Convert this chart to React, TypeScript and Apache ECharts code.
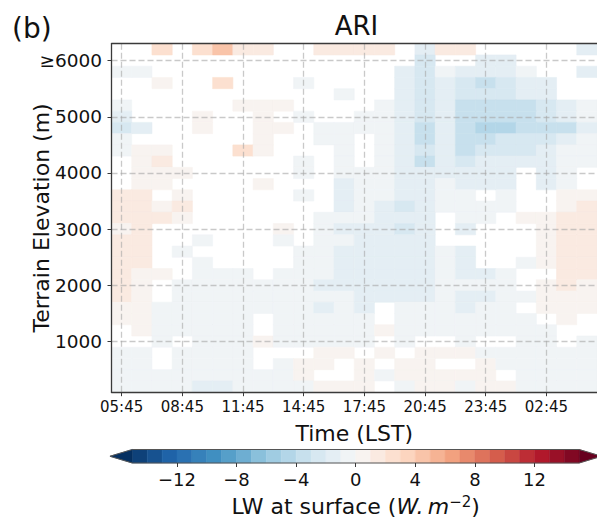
import React, { useEffect, useRef } from "react";
import * as echarts from "echarts";

const _ = null;

const timeCategories = [
  "05:45", "06:45", "07:45", "08:45", "09:45", "10:45", "11:45", "12:45",
  "13:45", "14:45", "15:45", "16:45", "17:45", "18:45", "19:45", "20:45",
  "21:45", "22:45", "23:45", "00:45", "01:45", "02:45", "03:45", "04:45",
];
const timeTickIndex = [0, 3, 6, 9, 12, 15, 18, 21];

const elevationBins = [
  6200, 6000, 5800, 5600, 5400, 5200, 5000, 4800, 4600, 4400, 4200, 4000,
  3800, 3600, 3400, 3200, 3000, 2800, 2600, 2400, 2200, 2000, 1800, 1600,
  1400, 1200, 1000, 800, 600, 400, 200,
];
const elevationTicks = [1000, 2000, 3000, 4000, 5000, 6000];
const elevationTickLabels = ["1000", "2000", "3000", "4000", "5000", "≥6000"];

const colorLevels = [
  -15, -14, -13, -12, -11, -10, -9, -8, -7, -6, -5, -4, -3, -2, -1, 0,
  1, 2, 3, 4, 5, 6, 7, 8, 9, 10, 11, 12, 13, 14, 15,
];
const colorbarTicks = [-12, -8, -4, 0, 4, 8, 12];

// LW difference at surface (W m-2), rows from top (6200 m) to bottom (200 m), columns = timeCategories
const lwRows: (number | null)[][] = [
  [_, _, 2.5, _, 2.5, 4.5, 1.5, 1.5, _, _, 1.5, 1.5, 1.5, 1.5, _, -1.5, 1.5, 1.5, _, _, _, _, _, -1.5],
  [_, _, _, _, _, _, _, _, _, _, _, _, _, _, _, -2.5, _, _, -1.5, -1.5, _, _, _, _],
  [-0.5, -0.5, _, _, _, _, _, _, _, _, _, _, _, _, -1.5, -2.5, -0.5, -1.5, -1.5, -1.5, -0.5, _, _, -1.5],
  [_, _, 0.5, _, _, 2.5, _, _, _, -0.5, _, _, _, _, -1.5, -2.5, -1.5, -2.5, -3.5, -2.5, -1.5, -1.5, _, _],
  [_, _, _, _, _, _, _, _, _, _, _, -0.5, _, _, -1.5, -2.5, -1.5, -2.5, -2.5, -2.5, -1.5, -1.5, _, _],
  [-0.5, _, _, _, _, _, 0.5, 0.5, 0.5, _, _, _, _, -0.5, -1.5, -2.5, -1.5, -3.5, -3.5, -3.5, -3.5, -2.5, -1.5, -0.5],
  [-1.5, _, _, _, 0.5, _, _, 0.5, _, -0.5, _, _, -0.5, -0.5, -1.5, -2.5, -1.5, -3.5, -3.5, -3.5, -3.5, -2.5, -1.5, -0.5],
  [-2.5, -1.5, _, _, 0.5, _, _, 0.5, 0.5, _, -0.5, -0.5, -0.5, -0.5, -1.5, -3.5, -1.5, -3.5, -4.5, -4.5, -3.5, -3.5, -3.5, -1.5],
  [-0.5, _, _, _, _, _, _, 0.5, _, _, -0.5, -0.5, _, -0.5, -1.5, -3.5, -1.5, -3.5, -3.5, -2.5, -2.5, -2.5, -1.5, -0.5],
  [-0.5, 0.5, 0.5, _, _, _, 2.5, 0.5, _, _, _, -0.5, _, -0.5, -1.5, -2.5, -1.5, -3.5, -2.5, -2.5, -2.5, -1.5, -0.5, -0.5],
  [_, 0.5, 1.5, _, _, _, _, _, _, -0.5, _, -0.5, _, -0.5, -1.5, -3.5, -1.5, -2.5, -1.5, -1.5, -1.5, -1.5, -0.5, -0.5],
  [_, 0.5, 0.5, 0.5, _, _, _, _, _, -0.5, _, -0.5, -0.5, -0.5, -1.5, -1.5, -1.5, -1.5, -1.5, -1.5, _, -1.5, -0.5, _],
  [_, 0.5, 0.5, _, _, _, _, 0.5, _, _, _, -1.5, -0.5, -0.5, -1.5, -1.5, -0.5, -1.5, -1.5, -1.5, _, -1.5, -0.5, _],
  [1.5, 1.5, _, 0.5, _, _, _, _, _, -0.5, _, -1.5, -0.5, -0.5, -1.5, -1.5, -0.5, -0.5, _, -0.5, _, _, 0.5, 0.5],
  [1.5, 1.5, 0.5, 1.5, _, _, _, _, _, _, _, -1.5, -0.5, -1.5, -2.5, -1.5, -0.5, -0.5, -0.5, -0.5, _, _, 0.5, 1.5],
  [1.5, 1.5, 1.5, 0.5, _, _, _, _, _, _, -0.5, -0.5, -0.5, -1.5, -1.5, -1.5, _, -0.5, -0.5, _, 0.5, 0.5, 1.5, 1.5],
  [0.5, 1.5, _, _, _, _, _, _, 0.5, _, -0.5, -1.5, -1.5, -1.5, -2.5, -1.5, _, -1.5, _, _, _, 0.5, 1.5, 1.5],
  [1.5, 1.5, _, _, -0.5, _, _, _, -0.5, _, -0.5, -0.5, -1.5, -1.5, -1.5, -1.5, _, _, _, _, _, 0.5, 1.5, 1.5],
  [1.5, 1.5, _, -0.5, _, _, _, _, _, -0.5, -0.5, -1.5, -1.5, -1.5, -1.5, -1.5, -0.5, -1.5, _, _, _, 0.5, 1.5, 1.5],
  [1.5, 1.5, _, _, -0.5, _, _, _, _, -0.5, -0.5, -1.5, -1.5, -1.5, -1.5, -1.5, -0.5, -1.5, _, _, -0.5, 0.5, 1.5, 1.5],
  [1.5, 0.5, 0.5, _, -0.5, -0.5, -0.5, _, -0.5, -0.5, -0.5, -1.5, -1.5, -1.5, -1.5, -1.5, -0.5, -1.5, -1.5, -0.5, _, _, 1.5, 1.5],
  [1.5, 0.5, _, -0.5, -0.5, -0.5, -0.5, -0.5, -0.5, -0.5, -1.5, -1.5, -1.5, -1.5, -1.5, -1.5, -0.5, -0.5, -0.5, -0.5, _, 0.5, 1.5, 0.5],
  [1.5, 0.5, _, -0.5, -0.5, -0.5, -0.5, -0.5, -0.5, -0.5, -0.5, -0.5, -1.5, -1.5, -1.5, -1.5, -0.5, -1.5, -1.5, -0.5, -0.5, 0.5, 0.5, 0.5],
  [0.5, 0.5, -0.5, -0.5, -0.5, -0.5, -0.5, -0.5, -0.5, -0.5, -1.5, -0.5, -1.5, _, -0.5, -0.5, -0.5, -1.5, -0.5, -0.5, _, 0.5, 0.5, 0.5],
  [0.5, 0.5, -0.5, -0.5, -0.5, -0.5, -0.5, _, -0.5, -0.5, -0.5, -0.5, -0.5, _, -0.5, -0.5, -0.5, -0.5, -0.5, -0.5, -0.5, _, 0.5, _],
  [_, 0.5, -0.5, -0.5, -0.5, -0.5, -0.5, _, -0.5, -0.5, -0.5, -0.5, -0.5, 0.5, -0.5, -0.5, -0.5, -0.5, -0.5, -0.5, -0.5, -0.5, _, _],
  [_, _, -0.5, _, -0.5, -0.5, -0.5, 0.5, -0.5, -0.5, -0.5, -0.5, -0.5, _, -0.5, _, _, -0.5, _, _, -0.5, -0.5, _, -0.5],
  [-0.5, -0.5, _, -0.5, -0.5, -0.5, -0.5, _, _, _, 0.5, 0.5, _, 0.5, _, 0.5, 0.5, 0.5, -0.5, -0.5, -0.5, -0.5, -0.5, -0.5],
  [-0.5, -0.5, _, -0.5, -0.5, -0.5, -0.5, _, -0.5, 0.5, 0.5, _, 0.5, _, 0.5, 0.5, _, _, 0.5, -0.5, -0.5, -0.5, -0.5, -0.5],
  [-0.5, -0.5, -0.5, -0.5, -0.5, -0.5, -0.5, -0.5, -0.5, 0.5, _, _, 0.5, -0.5, 0.5, 0.5, 0.5, 0.5, 0.5, _, -0.5, -0.5, -0.5, -0.5],
  [-0.5, -0.5, -0.5, -0.5, -1.5, -1.5, -0.5, -0.5, -0.5, -0.5, 0.5, 0.5, 0.5, _, -0.5, 0.5, 0.5, -0.5, 0.5, 0.5, -0.5, -0.5, -0.5, -0.5],
];

const FONT = "DejaVu Sans";
const RDBU_R = [
  "#053061", "#2166ac", "#4393c3", "#92c5de", "#d1e5f0", "#f7f7f7",
  "#fddbc7", "#f4a582", "#d6604d", "#b2182b", "#67001f",
];

function hexToRgb(h: string) {
  return [1, 3, 5].map((i) => parseInt(h.slice(i, i + 2), 16));
}
function rdbuR(t: number) {
  const s = Math.max(0, Math.min(1, t)) * 10;
  const i = Math.min(9, Math.floor(s));
  const f = s - i;
  const a = hexToRgb(RDBU_R[i]);
  const b = hexToRgb(RDBU_R[i + 1]);
  const c = a.map((v, k) => Math.round(v + (b[k] - v) * f));
  return `rgb(${c[0]},${c[1]},${c[2]})`;
}
function colorFor(v: number) {
  const nb = colorLevels.length - 1;
  let idx: number;
  if (v < colorLevels[0]) idx = 0;
  else if (v >= colorLevels[nb]) idx = nb + 1;
  else {
    let i = 0;
    while (i < nb - 1 && v >= colorLevels[i + 1]) i++;
    idx = i + 1;
  }
  const k = Math.floor((255 / (nb + 1)) * idx);
  return rdbuR(k / 255);
}

const gridColor = "rgba(165,165,165,0.6)";
const spineColor = "#3a3a3a";

export default function App() {
  const ref = useRef<HTMLDivElement>(null);
  useEffect(() => {
    if (!ref.current) return;
    const chart = echarts.init(ref.current, undefined, { renderer: "svg" });

    const cells: number[][] = [];
    lwRows.forEach((row, r) =>
      row.forEach((v, c) => {
        if (v !== null) cells.push([c, elevationBins[r], v]);
      })
    );
    const binStep = elevationBins[0] - elevationBins[1];
    const yMin = elevationBins[elevationBins.length - 1] - binStep / 2;
    const yMax = elevationBins[0] + binStep / 2;
    const xMin = -0.5;
    const xMax = timeCategories.length - 0.5;
    const cbMin = colorLevels[0];
    const cbMax = colorLevels[colorLevels.length - 1];
    const extLen = (cbMax - cbMin) * 0.05;

    const option: any = {
      animation: false,
      textStyle: { fontFamily: FONT, color: "#000" },
      grid: [
        { left: 111.5, right: -5, top: 43.7, height: 348.5 },
        { left: 132.3, right: 17.9, top: 449.5, height: 13.5 },
      ],
      xAxis: [
        {
          type: "value", gridIndex: 0, min: xMin, max: xMax, z: 5,
          axisLine: { show: true, onZero: false, lineStyle: { color: spineColor, width: 1.3 } },
          axisTick: { show: true, customValues: timeTickIndex, length: 4, lineStyle: { color: spineColor, width: 1 } },
          axisLabel: {
            customValues: timeTickIndex, fontSize: 15, color: "#111", margin: 7, fontFamily: FONT,
            formatter: (v: number) => timeCategories[Math.round(v)] ?? "",
          },
          splitLine: { show: true, lineStyle: { color: gridColor, type: [6, 3], width: 1.3 } },
          name: "Time (LST)", nameLocation: "middle", nameGap: 30, nameMoveOverlap: false,
          nameTextStyle: { fontSize: 22, color: "#111", fontFamily: FONT },
        },
        {
          type: "value", gridIndex: 0, position: "top", min: xMin, max: xMax, z: 5,
          axisLine: { show: true, onZero: false, lineStyle: { color: spineColor, width: 1.3 } },
          axisTick: { show: false }, axisLabel: { show: false }, splitLine: { show: false },
        },
        {
          type: "value", gridIndex: 1, min: cbMin, max: cbMax, z: 5,
          axisLine: { show: false },
          axisTick: { show: true, customValues: colorbarTicks, length: 4, lineStyle: { color: spineColor, width: 1 } },
          axisLabel: {
            customValues: colorbarTicks, fontSize: 18, color: "#111", margin: 7, fontFamily: FONT,
            formatter: (v: number) => (v < 0 ? "\u2212" + Math.abs(v) : String(v)),
          },
          splitLine: { show: false },
          name: "LW at surface ({it|W.\u2009m}{sup|\u22122})", nameLocation: "middle", nameGap: 31,
          nameMoveOverlap: false,
          nameTextStyle: {
            fontSize: 22, color: "#111", fontFamily: FONT,
            rich: {
              it: { fontSize: 22, fontStyle: "italic", color: "#111", fontFamily: FONT },
              sup: { fontSize: 15, color: "#111", fontFamily: FONT, padding: [0, 0, 10, 0] },
            },
          },
        },
      ],
      yAxis: [
        {
          type: "value", gridIndex: 0, min: yMin, max: yMax, z: 5,
          axisLine: { show: true, onZero: false, lineStyle: { color: spineColor, width: 1.3 } },
          axisTick: { show: true, customValues: elevationTicks, length: 4, lineStyle: { color: spineColor, width: 1 } },
          axisLabel: {
            customValues: elevationTicks, fontSize: 18.5, color: "#111", margin: 9.5, fontFamily: FONT,
            formatter: (v: number) => elevationTickLabels[elevationTicks.indexOf(v)] ?? "",
          },
          splitLine: { show: true, lineStyle: { color: gridColor, type: [6, 3], width: 1.3 } },
          name: "Terrain Elevation (m)", nameLocation: "middle", nameRotate: 90, nameGap: 59,
          nameMoveOverlap: false,
          nameTextStyle: { fontSize: 22, color: "#111", fontFamily: FONT },
        },
        { type: "value", gridIndex: 1, min: 0, max: 1, show: false },
      ],
      series: [
        {
          type: "custom", name: "LW", xAxisIndex: 0, yAxisIndex: 0, z: 1, clip: true,
          data: cells,
          encode: { x: 0, y: 1 },
          renderItem: (params: any, api: any) => {
            const x = api.value(0), y = api.value(1), v = api.value(2);
            const p0 = api.coord([x - 0.5, y + binStep / 2]);
            const p1 = api.coord([x + 0.5, y - binStep / 2]);
            const col = colorFor(v);
            return {
              type: "rect",
              shape: { x: p0[0], y: p0[1], width: p1[0] - p0[0], height: p1[1] - p0[1] },
              style: { fill: col, stroke: col, lineWidth: 0.6 },
            };
          },
        },
        {
          type: "custom", name: "colorbar", xAxisIndex: 2, yAxisIndex: 1, z: 1,
          data: colorLevels.slice(0, -1).map((lo) => [lo, 0]),
          encode: { x: 0, y: 1 },
          renderItem: (params: any, api: any) => {
            const lo = api.value(0);
            const p0 = api.coord([lo, 1]);
            const p1 = api.coord([lo + 1, 0]);
            const col = colorFor(lo + 0.5);
            return {
              type: "rect",
              shape: { x: p0[0], y: p0[1], width: p1[0] - p0[0], height: p1[1] - p0[1] },
              style: { fill: col, stroke: col, lineWidth: 0.5 },
            };
          },
        },
        {
          type: "custom", name: "extend", xAxisIndex: 2, yAxisIndex: 1, z: 1, clip: false,
          data: [[cbMin, -1], [cbMax, 1]],
          encode: { x: 0, y: 1 },
          renderItem: (params: any, api: any) => {
            const b = api.value(0), d = api.value(1);
            const col = colorFor(b + d * 0.5);
            return {
              type: "polygon",
              shape: { points: [api.coord([b, 0]), api.coord([b, 1]), api.coord([b + d * extLen, 0.5])] },
              style: { fill: col, stroke: col, lineWidth: 0.5 },
            };
          },
        },
        {
          type: "custom", name: "outline", xAxisIndex: 2, yAxisIndex: 1, z: 3, clip: false,
          data: [[cbMin, 0]],
          encode: { x: 0, y: 1 },
          renderItem: (params: any, api: any) => ({
            type: "polygon",
            shape: {
              points: [
                api.coord([cbMin, 1]), api.coord([cbMax, 1]), api.coord([cbMax + extLen, 0.5]),
                api.coord([cbMax, 0]), api.coord([cbMin, 0]), api.coord([cbMin - extLen, 0.5]),
              ],
            },
            style: { fill: "none", stroke: "#555", lineWidth: 1 },
          }),
        },
      ],
      graphic: [
        {
          type: "text", x: 356.5, y: 26,
          style: { text: "ARI", fontSize: 26, fontFamily: FONT, fill: "#111", textAlign: "center", textVerticalAlign: "middle" },
        },
        {
          type: "text", x: 12, y: 28,
          style: { text: "(b)", fontSize: 28, fontFamily: FONT, fill: "#111", textAlign: "left", textVerticalAlign: "middle" },
        },
      ],
    };
    chart.setOption(option);
    return () => chart.dispose();
  }, []);
  return (
    <div
      ref={ref}
      style={{ position: "fixed", left: 0, top: 0, width: 597, height: 521, background: "#fff" }}
    />
  );
}
